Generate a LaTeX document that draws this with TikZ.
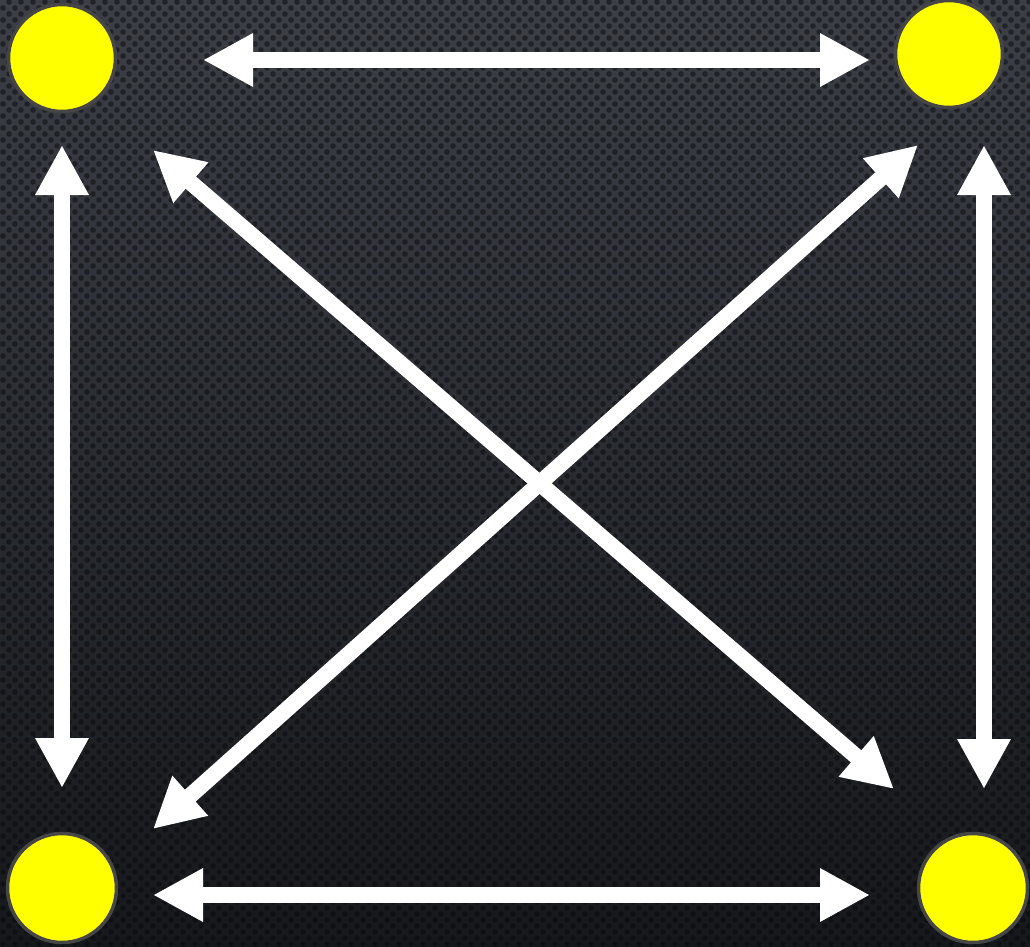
\documentclass[tikz,border=0pt]{standalone}
\usetikzlibrary{arrows.meta,patterns}
\definecolor{bgtop}{RGB}{60,63,70}
\definecolor{bgbot}{RGB}{22,24,27}
\definecolor{dot}{RGB}{8,9,12}
\definecolor{rim}{RGB}{70,70,70}
\definecolor{sun}{RGB}{255,255,0}
\pgfdeclarepatternformonly{perfdots}{\pgfpoint{-1pt}{-1pt}}{\pgfpoint{13pt}{13pt}}{\pgfpoint{12pt}{12pt}}{%
  \pgfpathcircle{\pgfpoint{3pt}{3pt}}{2.8pt}%
  \pgfpathcircle{\pgfpoint{9pt}{9pt}}{2.8pt}%
  \pgfusepath{fill}}
\tikzset{
  station/.style={circle, fill=sun, draw=rim, line width=3.5pt, minimum size=107pt, inner sep=0pt},
  link/.style={draw=white, line width=16pt, {Triangle[length=50pt,width=50pt]}-{Triangle[length=50pt,width=50pt]}},
}
\begin{document}
\begin{tikzpicture}[x=1pt,y=-1pt]
\useasboundingbox (0,0) rectangle (1030,947);
\shade[top color=bgtop, bottom color=bgbot] (0,0) rectangle (1030,947);
\fill[pattern=perfdots, pattern color=dot, opacity=0.5] (0,0) rectangle (1030,947);
\node[station] (tl) at (62,58) {};
\node[station] (tr) at (949,54) {};
\node[station, minimum size=109pt] (bl) at (62,888) {};
\node[station, minimum size=109pt] (br) at (973,888) {};
% arrow end points
\coordinate (topL) at (203,60);
\coordinate (topR) at (870,60);
\coordinate (botL) at (153,895);
\coordinate (botR) at (870,895);
\coordinate (leftT) at (62,145);
\coordinate (leftB) at (62,788);
\coordinate (rightT) at (984,145);
\coordinate (rightB) at (984,789);
\coordinate (d1a) at (153,150);
\coordinate (d1b) at (894,789);
\coordinate (d2a) at (918,145);
\coordinate (d2b) at (153,829);
\draw[link] (topL) -- (topR);
\draw[link] (botL) -- (botR);
\draw[link] (leftT) -- (leftB);
\draw[link] (rightT) -- (rightB);
\draw[link] (d1a) -- (d1b);
\draw[link] (d2a) -- (d2b);
\end{tikzpicture}
\end{document}
